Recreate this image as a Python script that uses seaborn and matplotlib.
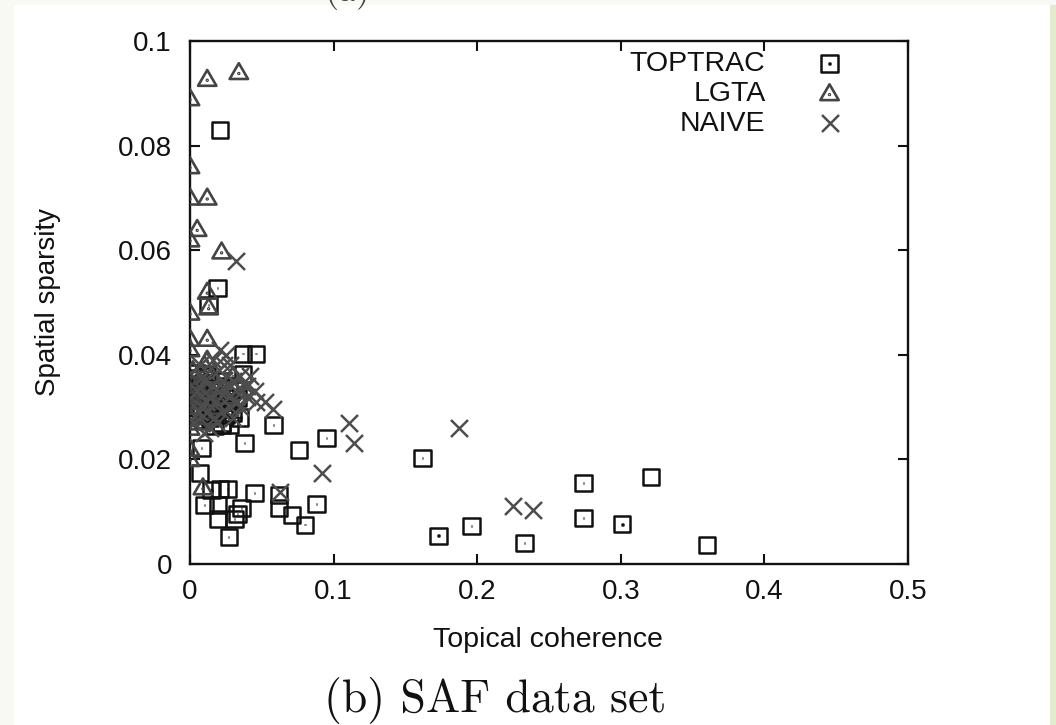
import numpy as np
import pandas as pd
import matplotlib
matplotlib.use("Agg")
import matplotlib.pyplot as plt
from matplotlib.path import Path
from matplotlib.patches import Rectangle
import seaborn as sns

# ---------------- data ----------------
toptrac_x = [0.021, 0.019, 0.013, 0.037, 0.046, 0.037, 0.038, 0.058, 0.076, 0.095,
             0.162, 0.173, 0.196, 0.233, 0.274, 0.274, 0.301, 0.321, 0.360,
             0.008, 0.007, 0.010, 0.0195, 0.0195, 0.027, 0.031, 0.036, 0.045,
             0.062, 0.062, 0.071, 0.080, 0.088, 0.015, 0.021, 0.026, 0.033,
             0.004, 0.007, 0.010, 0.012, 0.006, 0.015, 0.003, 0.018, 0.020, 0.010,
             0.025, 0.028, 0.014, 0.002, 0.022, 0.017, 0.008, 0.033, 0.022, 0.028,
             0.005, 0.013, 0.016, 0.009, 0.024,
             0.011, 0.019, 0.026, 0.030, 0.006, 0.014, 0.021, 0.035, 0.009, 0.017,
             0.027, 0.004, 0.012, 0.031, 0.023]
toptrac_y = [0.083, 0.0528, 0.0495, 0.0402, 0.0402, 0.0363, 0.0231, 0.0266, 0.0218, 0.0241,
             0.0203, 0.0054, 0.0073, 0.0040, 0.0155, 0.0088, 0.0076, 0.0166, 0.0036,
             0.0222, 0.0174, 0.0113, 0.0113, 0.0086, 0.0052, 0.0086, 0.0107, 0.0136,
             0.0132, 0.0107, 0.0094, 0.0075, 0.0115, 0.0141, 0.0143, 0.0143, 0.0096,
             0.0355, 0.0340, 0.0330, 0.0310, 0.0300, 0.0295, 0.0285, 0.0320, 0.0300, 0.0275,
             0.0285, 0.0310, 0.0345, 0.0320, 0.0270, 0.0265, 0.0290, 0.0317, 0.0266, 0.0266,
             0.0365, 0.0300, 0.0330, 0.0315, 0.0320,
             0.0290, 0.0335, 0.0300, 0.0290, 0.0325, 0.0280, 0.0350, 0.0280, 0.0345, 0.0305,
             0.0340, 0.0300, 0.0360, 0.0335, 0.0310]

lgta_x = [0.012, 0.034, 0.0, 0.0, 0.0, 0.012, 0.005, 0.0, 0.022, 0.012, 0.013,
          0.0, 0.0, 0.012, 0.0, 0.012, 0.0, 0.0, 0.009,
          0.0, 0.0, 0.0, 0.002, 0.005, 0.008, 0.003, 0.012, 0.015, 0.006, 0.010,
          0.0, 0.018, 0.020, 0.013, 0.025, 0.030, 0.0, 0.004]
lgta_y = [0.0927, 0.094, 0.089, 0.076, 0.070, 0.070, 0.064, 0.062, 0.0597, 0.052, 0.049,
          0.048, 0.043, 0.043, 0.041, 0.039, 0.022, 0.020, 0.0146,
          0.030, 0.032, 0.035, 0.037, 0.034, 0.031, 0.029, 0.033, 0.036, 0.027, 0.038,
          0.026, 0.030, 0.034, 0.028, 0.032, 0.036, 0.028, 0.031]

naive_x = [0.111, 0.114, 0.187, 0.225, 0.239, 0.092, 0.032, 0.052, 0.058, 0.063,
           0.021, 0.025, 0.028, 0.035, 0.040, 0.045,
           0.005, 0.010, 0.015, 0.020, 0.025, 0.030, 0.008, 0.012, 0.018, 0.022,
           0.028, 0.032, 0.038, 0.003, 0.014, 0.024, 0.016, 0.040, 0.046, 0.010,
           0.030, 0.042, 0.007, 0.035, 0.019,
           0.013, 0.017, 0.023, 0.027, 0.009, 0.033, 0.006, 0.020, 0.036, 0.011]
naive_y = [0.027, 0.0232, 0.026, 0.011, 0.0103, 0.0174, 0.058, 0.031, 0.0296, 0.0138,
           0.041, 0.040, 0.038, 0.036, 0.034, 0.033,
           0.033, 0.035, 0.034, 0.037, 0.033, 0.035, 0.030, 0.029, 0.031, 0.029,
           0.030, 0.033, 0.034, 0.027, 0.026, 0.038, 0.039, 0.032, 0.031, 0.025,
           0.028, 0.036, 0.038, 0.030, 0.027,
           0.032, 0.028, 0.035, 0.032, 0.036, 0.031, 0.029, 0.033, 0.033, 0.031]

series_names = ["TOPTRAC", "LGTA", "NAIVE"]
x_ticks = [0, 0.1, 0.2, 0.3, 0.4, 0.5]
x_ticklabels = ["0", "0.1", "0.2", "0.3", "0.4", "0.5"]
y_ticks = [0, 0.02, 0.04, 0.06, 0.08, 0.1]
y_ticklabels = ["0", "0.02", "0.04", "0.06", "0.08", "0.1"]
x_label = "Topical coherence"
y_label = "Spatial sparsity"
caption = "(b) SAF data set"

# ---------------- style ----------------
sns.set_theme(style="white")
plt.rcParams["font.family"] = ["Liberation Sans", "DejaVu Sans"]

W, H = 1056, 725
fig = plt.figure(figsize=(W / 100, H / 100), dpi=100, facecolor="white")

# light page border strips
fig.patches.append(Rectangle((1050 / W, 0), 6 / W, 1, transform=fig.transFigure,
                             facecolor="#e3ebcf", edgecolor="none", zorder=-5))
fig.patches.append(Rectangle((0, 0), 14 / W, 1, transform=fig.transFigure,
                             facecolor="#f8f9f3", edgecolor="none", zorder=-5))
fig.patches.append(Rectangle((0, 1 - 5 / H), 1, 5 / H, transform=fig.transFigure,
                             facecolor="#f8f9f3", edgecolor="none", zorder=-5))

ax = fig.add_axes([190 / W, 1 - 564 / H, (908 - 190) / W, (564 - 41) / H])
ax.set_facecolor("white")

# custom markers with centre dot (gnuplot style)
d = 0.035
sq_verts = [(-1, -1), (1, -1), (1, 1), (-1, 1), (-1, -1),
            (-d, -d), (d, -d), (d, d), (-d, d), (-d, -d)]
codes5 = [Path.MOVETO, Path.LINETO, Path.LINETO, Path.LINETO, Path.CLOSEPOLY]
sq_path = Path(sq_verts, codes5 + codes5)
tri_verts = [(-1, -0.72), (1, -0.72), (0, 1), (-1, -0.72),
             (-d, -0.12 - d), (d, -0.12 - d), (d, -0.12 + d), (-d, -0.12 + d), (-d, -0.12 - d)]
codes4 = [Path.MOVETO, Path.LINETO, Path.LINETO, Path.CLOSEPOLY]
tri_path = Path(tri_verts, codes4 + codes5)

df_t = pd.DataFrame({"x": toptrac_x, "y": toptrac_y})
df_l = pd.DataFrame({"x": lgta_x, "y": lgta_y})
df_n = pd.DataFrame({"x": naive_x, "y": naive_y})

sns.scatterplot(data=df_t, x="x", y="y", ax=ax, marker=sq_path, s=140,
                facecolor="none", edgecolor="#111111", linewidth=1.8,
                label=series_names[0], zorder=3)
sns.scatterplot(data=df_l, x="x", y="y", ax=ax, marker=tri_path, s=175,
                facecolor="none", edgecolor="#444444", linewidth=1.9,
                label=series_names[1], zorder=3)
sns.scatterplot(data=df_n, x="x", y="y", ax=ax, marker="x", s=150,
                color="#4d4d4d", edgecolor=None, linewidth=1.8,
                label=series_names[2], zorder=3)

ax.set_xlim(0, 0.5)
ax.set_ylim(0, 0.1)
ax.set_xticks(x_ticks)
ax.set_xticklabels(x_ticklabels)
ax.set_yticks(y_ticks)
ax.set_yticklabels(y_ticklabels)

for sp in ax.spines.values():
    sp.set_visible(True)
    sp.set_color("#111111")
    sp.set_linewidth(1.7)

ax.tick_params(axis="both", which="major", direction="in", length=7, width=1.5,
               colors="#111111", top=True, right=True, bottom=True, left=True,
               labelsize=20)
ax.tick_params(axis="x", pad=11)
ax.tick_params(axis="y", pad=13)

ax.set_xlabel(x_label, fontsize=20.5, color="#111111")
ax.set_ylabel(y_label, fontsize=20, color="#111111")
ax.xaxis.set_label_coords((548 - 190) / 718, (564 - 640) / 523)
ax.xaxis.label.set_va("center")
ax.yaxis.set_label_coords((48 - 190) / 718, (564 - 302) / 523)
ax.yaxis.label.set_va("center")

leg = ax.legend(loc="upper right", bbox_to_anchor=((858 - 190) / 718, (564 - 51) / 523),
                markerfirst=False, frameon=False, fontsize=20.5, handlelength=2.0,
                handletextpad=1.25, labelspacing=0.14, borderpad=0, borderaxespad=0,
                scatterpoints=1)
for t in leg.get_texts():
    t.set_color("#111111")

fig.text(495 / W, 1 - 700 / H, caption, fontfamily="cmr10", fontsize=33,
         ha="center", va="center", color="#111111")
fig.text(325 / W, 1 - 1 / H, "(a)", fontfamily="cmr10", fontsize=26,
         ha="left", va="baseline", color="#444444")

fig.savefig("out.png", dpi=100, facecolor=fig.get_facecolor())
